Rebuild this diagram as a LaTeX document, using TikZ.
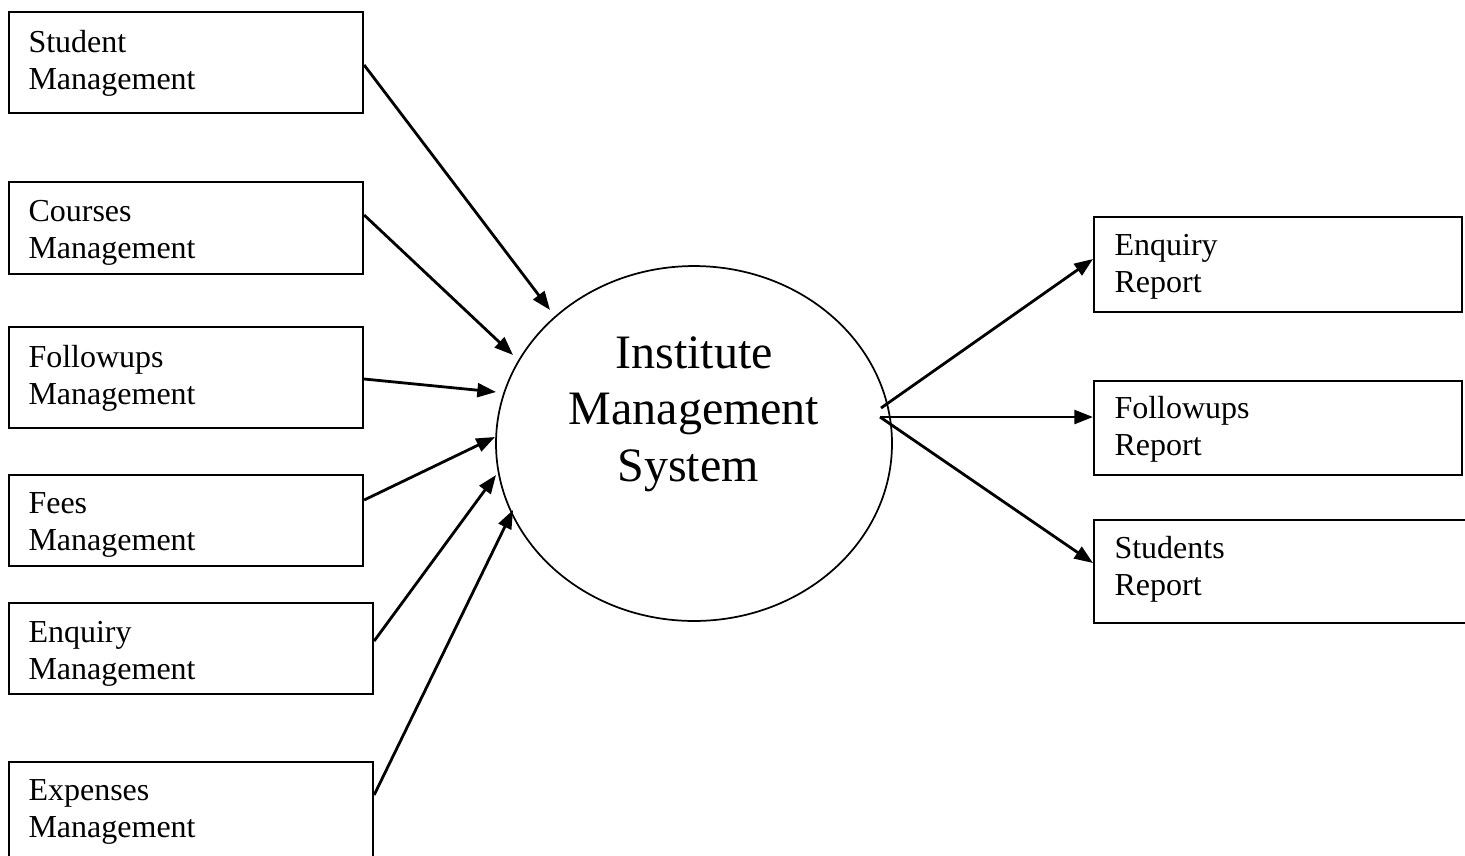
\documentclass[tikz,border=0pt]{standalone}
\usepackage{fontspec}
\setmainfont{Liberation Serif}
\usetikzlibrary{shapes.geometric,arrows.meta,calc}
\tikzset{
  box/.style={draw, line width=0.8pt, rectangle, inner sep=0pt, anchor=north west},
  boxtext/.style={anchor=base west, inner sep=0pt},
  arr/.style={line width=1.05pt, -{Triangle[length=7pt,width=5.2pt]}},
  proc/.style={draw, ellipse, line width=0.65pt, inner sep=0pt, minimum width=148.5pt, minimum height=133.1pt}
}
\newcommand{\bt}[1]{\parbox[t]{120pt}{\fontsize{12}{13.9}\selectfont #1}}
\begin{document}
\begin{tikzpicture}[x=0.375pt,y=-0.375pt]
\clip (0,0) rectangle (1465,855);
\fill[white] (0,0) rectangle (1465,855);
% left boxes
\node[box, minimum width=132.75pt, minimum height=37.875pt] (b1) at (8,11) {};
\node[box, minimum width=132.75pt, minimum height=34.5pt] (b2) at (8,181) {};
\node[box, minimum width=132.75pt, minimum height=37.875pt] (b3) at (8,326) {};
\node[box, minimum width=132.75pt, minimum height=34.125pt] (b4) at (8,474) {};
\node[box, minimum width=136.5pt, minimum height=34.125pt] (b5) at (8,602) {};
\node[box, minimum width=136.5pt, minimum height=41.25pt] (b6) at (8,761) {};
\node[boxtext] (t1) at ($(b1.north west)+(20,41)$) {\bt{Student\\Management}};
\node[boxtext] (t2) at ($(b2.north west)+(20,40)$) {\bt{Courses\\Management}};
\node[boxtext] (t3) at ($(b3.north west)+(20,41)$) {\bt{Followups\\Management}};
\node[boxtext] (t4) at ($(b4.north west)+(20,39)$) {\bt{Fees\\Management}};
\node[boxtext] (t5) at ($(b5.north west)+(20,40)$) {\bt{Enquiry\\Management}};
\node[boxtext] (t6) at ($(b6.north west)+(20,39)$) {\bt{Expenses\\Management}};
% right boxes
\node[box, minimum width=138pt, minimum height=35.625pt] (r1) at (1093,216) {};
\node[box, minimum width=138pt, minimum height=35.25pt] (r2) at (1093,380) {};
\node[box, minimum width=142.5pt, minimum height=38.625pt] (r3) at (1093,519) {};
\node[boxtext] (s1) at ($(r1.north west)+(21,39)$) {\bt{Enquiry\\Report}};
\node[boxtext] (s2) at ($(r2.north west)+(21,38)$) {\bt{Followups\\Report}};
\node[boxtext] (s3) at ($(r3.north west)+(21,39)$) {\bt{Students\\Report}};
% central process
\node[proc] (ims) at (694,443.5) {};
\node[anchor=base, inner sep=0pt] (imst) at (694,368) {\parbox[t]{200pt}{\centering\fontsize{18}{21.2}\selectfont Institute\\Management\\System\kern4.5pt}};
% inputs
\draw[arr] ($(b1.north east)+(0,54)$) -- ($(ims.center)+(-144,-133.5)$);
\draw[arr] ($(b2.north east)+(0,34)$) -- ($(ims.center)+(-181,-88.5)$);
\draw[arr] ($(b3.north east)+(0,53)$) -- ($(ims.center)+(-198,-51.5)$);
\draw[arr] ($(b4.north east)+(0,26)$) -- ($(ims.center)+(-199,-6.5)$);
\draw[arr] ($(b5.north east)+(0,39)$) -- ($(ims.center)+(-198,31.5)$);
\draw[arr] ($(b6.north east)+(0,34)$) -- ($(ims.center)+(-181,66.5)$);
% outputs
\draw[arr] ($(ims.center)+(187,-35.5)$) -- ($(r1.north west)+(0,43)$);
\draw[arr] ($(ims.center)+(186,-26.5)$) -- ($(r2.north west)+(0,37)$);
\draw[arr] ($(ims.center)+(186,-26.5)$) -- ($(r3.north west)+(0,44)$);
\end{tikzpicture}
\end{document}
